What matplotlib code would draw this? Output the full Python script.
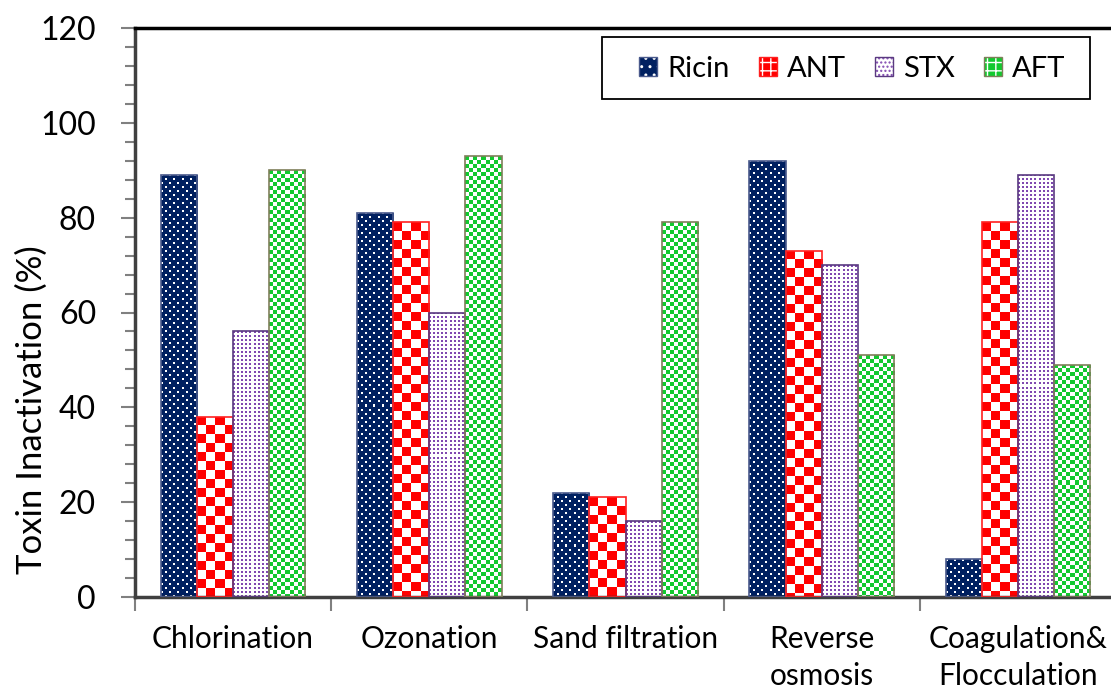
import numpy as np
import matplotlib
matplotlib.use("Agg")
import matplotlib.pyplot as plt
from matplotlib.patches import Rectangle
from matplotlib.legend_handler import HandlerBase

# treatment methods and inactivation (%) per toxin
methods = ["Chlorination", "Ozonation", "Sand filtration", "Reverse\nosmosis", "Coagulation&\nFlocculation"]
toxins = ["Ricin", "ANT", "STX", "AFT"]
ricin = [89, 81, 22, 92, 8]
ant = [38, 79, 21, 73, 79]
stx = [56, 60, 16, 70, 89]
aft = [90, 93, 79, 51, 49]

plt.rcParams["font.family"] = ["Lato", "DejaVu Sans"]

NAVY = np.array([0, 32, 96]) / 255
RED = np.array([255, 0, 0]) / 255
PURPLE = np.array([128, 72, 176]) / 255
GREEN = np.array([18, 201, 47]) / 255
WHITE = np.ones(3)


def texture(kind, h, w):
    i, j = np.mgrid[0:h, 0:w]
    img = np.empty((h, w, 3))
    if kind == "Ricin":
        shift = ((i // 4) % 2) * 4
        mask = ((i % 4) < 2) & (((j + shift) % 8) < 2)
        img[:] = NAVY
        img[mask] = WHITE
    elif kind == "ANT":
        mask = ((i // 9 + j // 9) % 2) == 0
        img[:] = WHITE
        img[mask] = RED
    elif kind == "STX":
        mask = ((i % 4) < 2) & ((j % 4) < 2)
        img[:] = WHITE
        img[mask] = PURPLE
    else:
        mask = ((i // 4 + j // 4) % 2) == 0
        img[:] = WHITE
        img[mask] = GREEN
    return img


edges = {"Ricin": "#4a5a8c", "ANT": "#ff2020", "STX": "#5a3a80", "AFT": "#7f7f5a"}
legend_style = {
    "Ricin": (NAVY, "white", ".."),
    "ANT": (RED, "white", "++"),
    "STX": (WHITE, PURPLE, "...."),
    "AFT": (GREEN, "white", "++"),
}


class TextureHandler(HandlerBase):
    def __init__(self, name):
        super().__init__()
        self.name = name

    def create_artists(self, legend, orig_handle, xdescent, ydescent,
                       width, height, fontsize, trans):
        face, hcol, hatch = legend_style[self.name]
        r1 = Rectangle((-xdescent, -ydescent), width, height, facecolor=face,
                       edgecolor=hcol, hatch=hatch, lw=0, transform=trans)
        r2 = Rectangle((-xdescent, -ydescent), width, height, facecolor="none",
                       edgecolor=edges[self.name], lw=1, transform=trans)
        return [r1, r2]


fig = plt.figure(figsize=(11.11, 6.88), dpi=100)
ax = fig.add_axes([135 / 1111, 1 - 597 / 688, 981 / 1111, 569 / 688])
ax.set_xlim(-0.5, 4.5)
ax.set_ylim(0, 120)

x = np.arange(len(methods))
bw = 0.184
series = [ricin, ant, stx, aft]
handles = []
for k, (name, vals) in enumerate(zip(toxins, series)):
    bars = ax.bar(x + (k - 1.5) * bw, vals, bw, facecolor="none",
                  edgecolor=edges[name], linewidth=1.2, zorder=3, label=name)
    handles.append(bars)
    for b in bars:
        x0, x1 = b.get_x(), b.get_x() + b.get_width()
        top = b.get_height()
        p0, p1 = ax.transData.transform([(x0, 0), (x1, top)])
        wpx = max(1, int(round(p1[0] - p0[0])))
        hpx = max(1, int(round(p1[1] - p0[1])))
        im = ax.imshow(texture(name, hpx, wpx), extent=(x0, x1, 0, top),
                       origin="upper", aspect="auto", interpolation="nearest",
                       zorder=2)
        im.set_clip_path(b)

ax.set_xlim(-0.5, 4.5)
ax.set_ylim(0, 120)

# y axis
ax.set_yticks(np.arange(0, 121, 20))
ax.set_yticks(np.arange(0, 121, 4), minor=True)
ax.tick_params(axis="y", which="major", length=10, width=1.5, color="#808080",
               labelsize=23, pad=18)
ax.tick_params(axis="y", which="minor", length=7, width=1.5, color="#808080")
ax.set_ylabel("Toxin Inactivation (%)", fontsize=25)
ax.yaxis.set_label_coords((48 - 135) / 981, (597 - 410) / 569)

# x axis: ticks on group boundaries, labels at centres
ax.set_xticks(np.arange(-0.5, 4.6, 1))
ax.set_xticklabels([])
ax.set_xticks(x, minor=True)
ax.set_xticklabels(methods, minor=True, fontsize=21.5, linespacing=1.4)
ax.tick_params(axis="x", which="major", length=10, width=1.5, color="#808080")
ax.tick_params(axis="x", which="minor", length=0, pad=20)

ax.spines["top"].set_linewidth(2.5)
ax.spines["top"].set_color("black")
for s in ["left", "bottom"]:
    ax.spines[s].set_linewidth(2.5)
    ax.spines[s].set_color("#404040")
ax.spines["right"].set_visible(False)

# legend box drawn separately, entries placed inside it
frame = Rectangle((602 / 1111, 1 - 99 / 688), 488 / 1111, 62 / 688,
                  transform=fig.transFigure, facecolor="white",
                  edgecolor="black", lw=1.3, zorder=4, clip_on=False)
ax.add_patch(frame)
leg = ax.legend(handles=handles, labels=toxins, ncol=4,
                handler_map={h: TextureHandler(n) for h, n in zip(handles, toxins)},
                loc="center left", bbox_to_anchor=(639 / 1111, 1 - 69 / 688),
                bbox_transform=fig.transFigure, borderaxespad=0, borderpad=0,
                fontsize=21, handlelength=0.62, handleheight=0.62,
                handletextpad=0.34, columnspacing=1.0, frameon=False)
leg.set_zorder(5)

fig.savefig("out.png", dpi=100)
